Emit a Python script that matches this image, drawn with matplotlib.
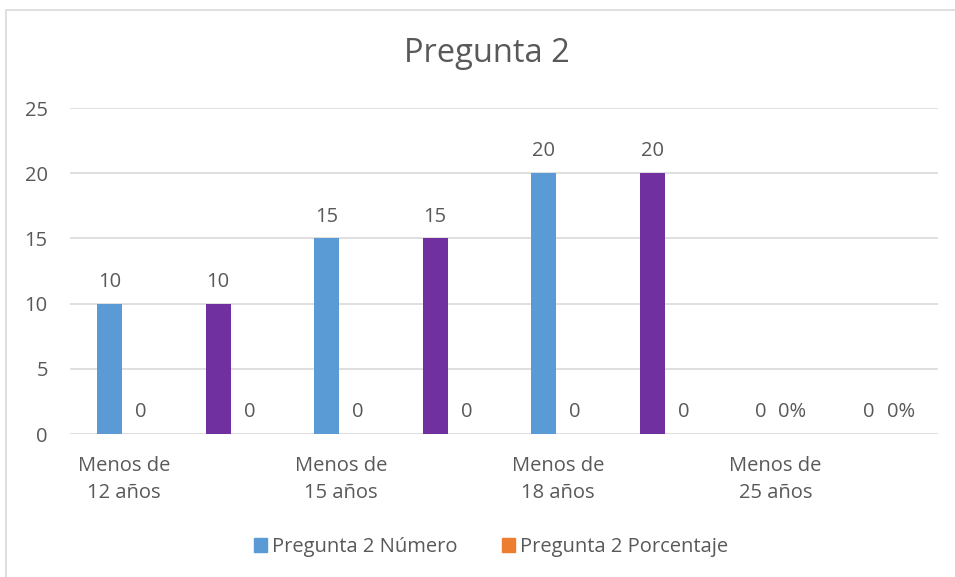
import matplotlib.pyplot as plt
from matplotlib.patches import Rectangle, Patch
import numpy as np

# ================= Data =================
categories = ["Menos de\n12 años", "", "Menos de\n15 años", "",
              "Menos de\n18 años", "", "Menos de\n25 años", ""]
numero = [10, 10, 15, 15, 20, 20, 0, 0]
porcentaje = [0, 0, 0, 0, 0, 0, 0, 0]
porcentaje_labels = ["0", "0", "0", "0", "0", "0", "0%", "0%"]
numero_colors = ["#5B9BD5", "#7030A0", "#5B9BD5", "#7030A0",
                 "#5B9BD5", "#7030A0", "#5B9BD5", "#5B9BD5"]
title = "Pregunta 2"
series_names = ["Pregunta 2 Número", "Pregunta 2 Porcentaje"]
# ========================================

plt.rcParams['font.family'] = ['Open Sans', 'DejaVu Sans']
TXT = '#595959'
FS = 14.5

fig = plt.figure(figsize=(9.55, 5.77), dpi=100)
W, H = 955, 577
ax = fig.add_axes([70 / W, 1 - 434 / H, 868 / W, 326 / H])

x = np.arange(len(categories))
bw = 0.23
off = 0.135
ax.bar(x - off, numero, bw, color=numero_colors, zorder=3)
ax.bar(x + off, porcentaje, bw, color="#ED7D31", zorder=3)

for xi, v in zip(x, numero):
    ax.text(xi - off, v + 0.9, str(v), ha='center', va='bottom',
            fontsize=FS, color=TXT)
for xi, v, lab in zip(x, porcentaje, porcentaje_labels):
    ax.text(xi + off + 0.02, v + 0.9, lab, ha='center', va='bottom',
            fontsize=FS, color=TXT)

ax.set_xlim(-0.5, len(categories) - 0.5)
ax.set_ylim(0, 25)
ax.set_yticks(range(0, 26, 5))
ax.set_xticks(x)
ax.set_xticklabels(categories, fontsize=FS, color=TXT, linespacing=1.45)
ax.tick_params(axis='y', labelsize=FS, labelcolor=TXT, length=0, pad=16)
ax.tick_params(axis='x', length=0, pad=16)
ax.grid(axis='y', color='#D9D9D9', linewidth=1.2, zorder=0)
for s in ax.spines.values():
    s.set_visible(False)

fig.text(487 / W, 1 - 53 / H, title, ha='center', va='center',
         fontsize=23.5, color=TXT)

handles = [Patch(color="#5B9BD5"), Patch(color="#ED7D31")]
fig.legend(handles, series_names, loc='center', bbox_to_anchor=(491 / W, 1 - 547 / H),
           ncol=2, frameon=False, fontsize=FS, labelcolor=TXT,
           handlelength=0.65, handleheight=0.65, handletextpad=0.25, columnspacing=2.2)

fig.patches.append(Rectangle((6 / W, -0.1), 1.2, 1 - 9.5 / H + 0.1, transform=fig.transFigure,
                             fill=False, edgecolor='#D9D9D9', linewidth=1.2))

fig.savefig("out.png", dpi=100)
